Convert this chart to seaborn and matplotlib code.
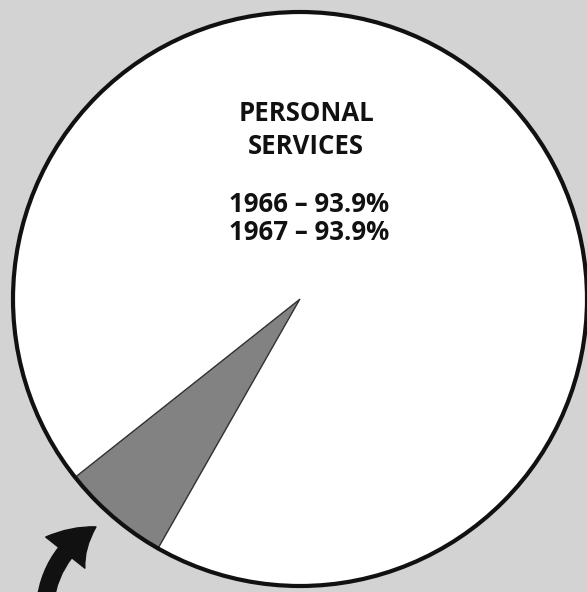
import matplotlib
matplotlib.use("Agg")
import matplotlib.pyplot as plt
import seaborn as sns
from matplotlib.patches import Circle

# Data
categories = ['Other', 'Personal Services']
shares_1967 = [6.1, 93.9]
years = ['1966', '1967']
personal_pct = [93.9, 93.9]

sns.set_theme(style="white")
plt.rcParams['font.family'] = ['Open Sans', 'DejaVu Sans']

bg_color = '#d3d3d3'
wedge_colors = ['#828282', 'white']

fig = plt.figure(figsize=(5.87, 5.92), dpi=100)
fig.patch.set_facecolor(bg_color)
ax = fig.add_axes([0, 0, 1, 1])
ax.set_facecolor(bg_color)

# Pie, grey slice sits lower-left
ax.pie(shares_1967, colors=wedge_colors, startangle=218.4, counterclock=True,
       radius=1.0, center=(0, 0),
       wedgeprops=dict(edgecolor='#333333', linewidth=0.9))

# heavy outline around the whole circle
ax.add_patch(Circle((0, 0), 1.0, fill=False, edgecolor='#111111', linewidth=3.0))

# labels
ax.text(0.021, 0.645, "PERSONAL", ha='center', va='center',
        fontsize=18.5, fontweight='bold', color='#111111')
ax.text(0.021, 0.533, "SERVICES", ha='center', va='center',
        fontsize=18.5, fontweight='bold', color='#111111')
for i, (yr, pct) in enumerate(zip(years, personal_pct)):
    ax.text(0.031, 0.328 - i * 0.098, f"{yr} \u2013 {pct}%", ha='center', va='center',
            fontsize=18.5, fontweight='bold', color='#111111')

# curved arrow pointing at the small slice
ax.annotate("", xy=(-0.711, -0.794), xytext=(-0.889, -1.06),
            arrowprops=dict(arrowstyle="simple,head_length=1.2,head_width=1.5,tail_width=0.5",
                            connectionstyle="arc3,rad=-0.25",
                            color='#111111', shrinkA=0, shrinkB=0,
                            mutation_scale=24))

ax.set_aspect('auto')
ax.set_xlim(-1.0453, 1.0)
ax.set_ylim(-1.0209, 1.0418)
ax.axis('off')

fig.savefig("out.png", dpi=100, facecolor=bg_color)
plt.close(fig)
